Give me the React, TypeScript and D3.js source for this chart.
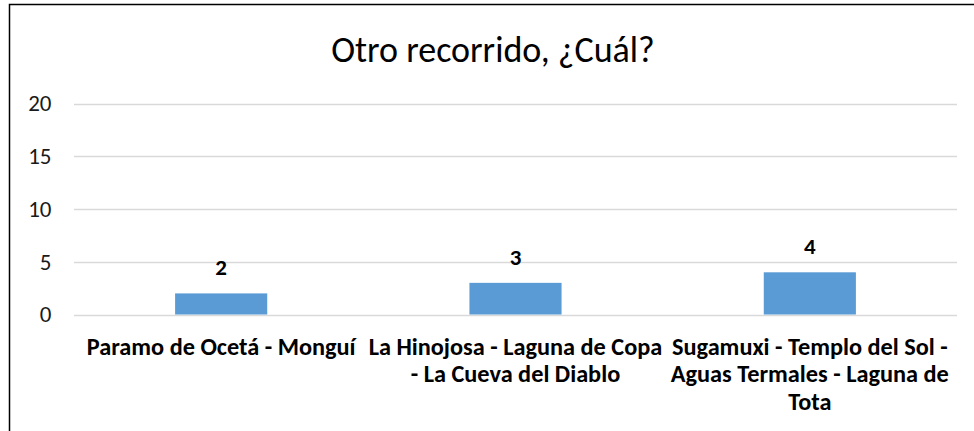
import React, { useEffect, useRef } from "react";
import * as d3 from "d3";

const categories: string[] = [
  "Paramo de Ocetá - Monguí",
  "La Hinojosa - Laguna de Copa\n- La Cueva del Diablo",
  "Sugamuxi - Templo del Sol -\nAguas Termales - Laguna de\nTota",
];
const values: number[] = [2, 3, 4];
const yTicks: number[] = [0, 5, 10, 15, 20];
const title = "Otro recorrido, ¿Cuál?";

const W = 974;
const H = 431;
const FONT = "Carlito, Calibri, Lato, 'Open Sans', sans-serif";

export default function App() {
  const ref = useRef<SVGSVGElement | null>(null);

  useEffect(() => {
    const svg = d3.select(ref.current);
    svg.selectAll("*").remove();

    const plotLeft = 74;
    const plotRight = 957;
    const y0 = 314.5;
    const y20 = 103.5;

    const x = d3
      .scaleBand<number>()
      .domain(categories.map((_, i) => i))
      .range([plotLeft, plotRight])
      .paddingInner(0.687)
      .paddingOuter(0.687 / 2);
    const y = d3.scaleLinear().domain([0, 20]).range([y0, y20]);

    svg
      .append("rect")
      .attr("x", 0)
      .attr("y", 0)
      .attr("width", W)
      .attr("height", H)
      .attr("fill", "#ffffff");

    // border
    svg
      .append("rect")
      .attr("x", 9.5)
      .attr("y", 4.5)
      .attr("width", W + 20)
      .attr("height", H + 20)
      .attr("fill", "none")
      .attr("stroke", "#000")
      .attr("stroke-width", 1.5);

    // title
    svg
      .append("text")
      .attr("x", 493)
      .attr("y", 61.5)
      .attr("text-anchor", "middle")
      .attr("font-family", FONT)
      .attr("font-size", 36)
      .attr("fill", "#000")
      .text(title);

    // gridlines
    svg
      .append("g")
      .selectAll("line")
      .data(yTicks)
      .join("line")
      .attr("x1", plotLeft)
      .attr("x2", plotRight)
      .attr("y1", (d) => Math.round(y(d)) + 0.5)
      .attr("y2", (d) => Math.round(y(d)) + 0.5)
      .attr("stroke", "#d9d9d9")
      .attr("stroke-width", 1.3);

    // tick labels
    svg
      .append("g")
      .selectAll("text")
      .data(yTicks)
      .join("text")
      .attr("x", 51.5)
      .attr("y", (d) => y(d) + 7.8)
      .attr("text-anchor", "end")
      .attr("font-family", FONT)
      .attr("font-size", 23)
      .attr("fill", "#1a1a1a")
      .text((d) => String(d));

    // bars
    svg
      .append("g")
      .selectAll("rect")
      .data(values)
      .join("rect")
      .attr("x", (_, i) => x(i)!)
      .attr("y", (d) => y(d))
      .attr("width", x.bandwidth())
      .attr("height", (d) => y(0) - y(d))
      .attr("fill", "#5b9bd5");

    // data labels
    svg
      .append("g")
      .selectAll("text")
      .data(values)
      .join("text")
      .attr("x", (_, i) => x(i)! + x.bandwidth() / 2)
      .attr("y", (d) => y(d) - 18)
      .attr("text-anchor", "middle")
      .attr("font-family", FONT)
      .attr("font-size", 23)
      .attr("font-weight", "bold")
      .attr("fill", "#000")
      .text((d) => String(d));

    // category labels
    const cat = svg
      .append("g")
      .selectAll("text")
      .data(categories)
      .join("text")
      .attr("x", (_, i) => x(i)! + x.bandwidth() / 2)
      .attr("y", 354.5)
      .attr("text-anchor", "middle")
      .attr("font-family", FONT)
      .attr("font-size", 24.3)
      .attr("font-weight", "bold")
      .attr("fill", "#000");
    cat.each(function (d) {
      const t = d3.select(this);
      d.split("\n").forEach((line, j) => {
        t.append("tspan")
          .attr("x", t.attr("x"))
          .attr("dy", j === 0 ? 0 : 27.8)
          .text(line);
      });
    });
  }, []);

  return (
    <svg
      ref={ref}
      width={W}
      height={H}
      style={{ position: "absolute", left: 0, top: 0, display: "block" }}
    />
  );
}
